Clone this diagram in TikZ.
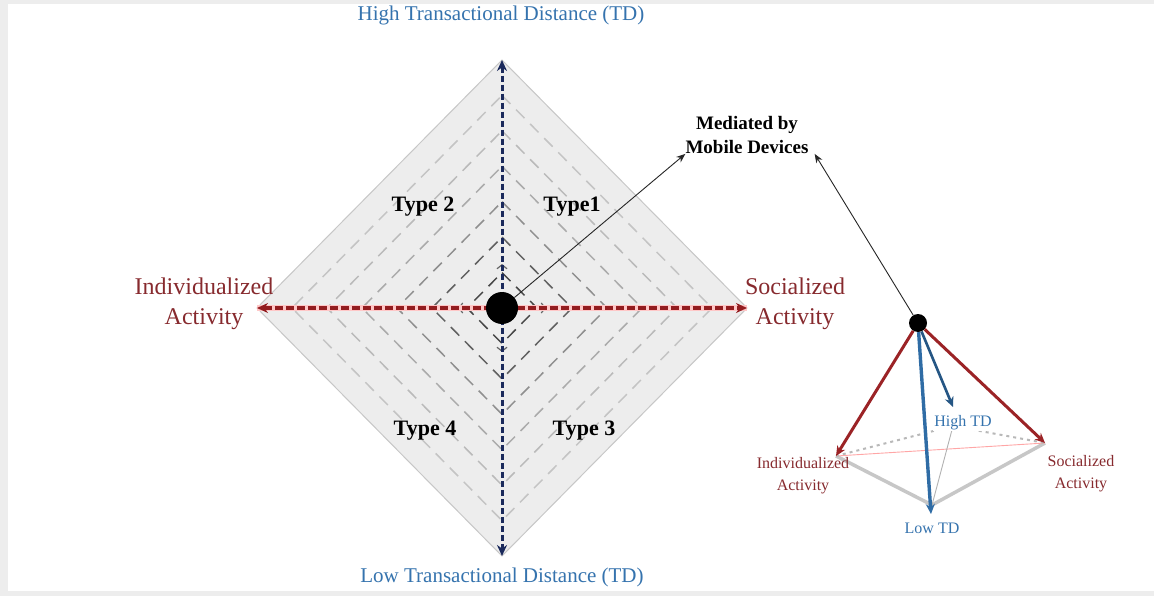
\documentclass[tikz,border=0pt]{standalone}
\usepackage{fontspec}
\setmainfont{Liberation Serif}
\usetikzlibrary{arrows.meta,calc}
\definecolor{navyax}{HTML}{1B2A5C}
\definecolor{redax}{HTML}{931D20}
\definecolor{tdblue}{HTML}{3573AE}
\definecolor{actred}{HTML}{872A2E}
\definecolor{pyrblue}{HTML}{2F6CA5}
\definecolor{pyrred}{HTML}{9B2326}
\begin{document}
\begin{tikzpicture}[x=1pt,y=-1pt,
  every node/.style={inner sep=0pt},
  big/.style={font=\fontsize{21}{24}\selectfont, text=tdblue},
  act/.style={font=\fontsize{24}{30}\selectfont, text=actred, align=center},
  typ/.style={font=\bfseries\fontsize{22}{24}\selectfont},
  sml/.style={font=\fontsize{16}{22}\selectfont, align=center},
  ring/.style={dash pattern=on 12pt off 8pt, line width=1.5pt},
  tip/.style={-{Stealth[length=10pt,width=9pt]}}]
  % frame
  \fill[black!7] (0,0) rectangle (1154,596);
  \fill[white] (8,4) rectangle (1154,591);
  \useasboundingbox (0,0) rectangle (1154,596);

  % the diamond
  \coordinate (C) at (502,308);
  \coordinate (T) at (502,60);
  \coordinate (B) at (502,556);
  \coordinate (L) at (257,308);
  \coordinate (R) at (747,308);
  \fill[black!7, draw=black!22, line width=1pt] (T) -- (R) -- (B) -- (L) -- cycle;
  \foreach \k/\c in {1/72,2/62,3/44,4/33,5/27,6/23} {
    \draw[ring, black!\c] (502,{308-248*\k/7}) -- ({502+245*\k/7},308)
      -- (502,{308+248*\k/7}) -- ({502-245*\k/7},308) -- cycle;
  }
  \foreach \a in {0,90,180,270}
    \draw[black!60, line width=1.2pt, -{Straight Barb[length=4pt,width=10pt]}]
      ($(C)+(\a:38)$) -- ($(C)+(\a:44)$);

  % axes
  \draw[red!22, line width=6pt] (L) -- (R);
  \draw[redax, line width=3.2pt, dash pattern=on 8pt off 3pt, {Stealth[length=11pt,width=10pt]}-{Stealth[length=11pt,width=10pt]}] (L) -- (R);
  \draw[navyax, line width=3pt, dash pattern=on 6pt off 3pt, {Stealth[length=11pt,width=10pt]}-{Stealth[length=11pt,width=10pt]}] (T) -- (B);
  \node[circle, fill=black, minimum size=32pt] (dot) at (C) {};

  \node[big] (HT) at (501,15) {High Transactional Distance (TD)};
  \node[big] (LT) at (502,577) {Low Transactional Distance (TD)};
  \node[act] (IA) at (204,304) {Individualized\\Activity};
  \node[act] (SA) at (795,304) {Socialized\\Activity};
  \node[typ] (T2) at (423,207) {Type 2};
  \node[typ] (T1) at (572,207) {Type1};
  \node[typ] (T4) at (425,431) {Type 4};
  \node[typ] (T3) at (584,431) {Type 3};

  \node[font=\bfseries\fontsize{19}{24}\selectfont, align=center] (MED) at (747,135) {Mediated by\\Mobile Devices};

  % the pyramid
  \node[circle, fill=black, minimum size=18pt] (apex) at (918,323) {};
  \coordinate (pL) at (836,456);
  \coordinate (pR) at (1045,443);
  \coordinate (pB) at (932,505);
  \coordinate (pH) at (953,426);
  \coordinate (pLow) at (931,514);
  \coordinate (pHigh) at (953,407);
  \draw[black!22, line width=3.5pt] (pL) -- (pB) -- (pR);
  \draw[red!35, line width=0.9pt] (pL) -- (pR);
  \draw[black!30, line width=0.9pt] (pH) -- (pB);
  \draw[black!28, line width=2pt, dash pattern=on 3pt off 4pt] (pL) -- (pH) -- (pR);
  \node[sml, text=tdblue, fill=white, inner sep=1pt] (HTD) at (963,423) {High TD};
  \node[sml, text=actred] (IA2) at (803,476) {Individualized\\Activity};
  \node[sml, text=actred] (SA2) at (1081,474) {Socialized\\Activity};
  \node[sml, text=tdblue] (LTD) at (932,528) {Low TD};

  \draw[pyrred, line width=3pt, tip] (apex) -- (pL);
  \draw[pyrred, line width=3pt, tip] (apex) -- (pR);
  \draw[pyrblue, line width=3.4pt, tip] (apex) -- (pLow);
  \draw[pyrblue!80!black, line width=2.6pt, tip] (apex) -- (pHigh);

  % to the label
  \draw[black!85, line width=0.9pt, -{Stealth[length=9pt,width=7pt]}] (dot) -- (MED.south west);
  \draw[black!85, line width=0.9pt, -{Stealth[length=9pt,width=7pt]}] (apex) -- ([xshift=6pt]MED.south east);
\end{tikzpicture}
\end{document}
